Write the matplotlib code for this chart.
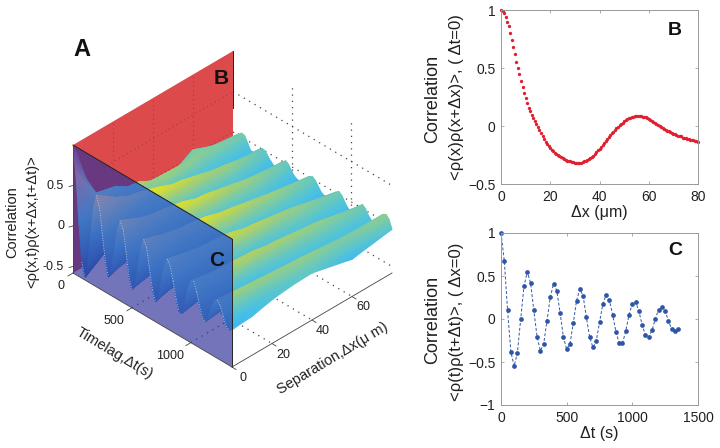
import numpy as np
import matplotlib
matplotlib.use("Agg")
import matplotlib.pyplot as plt
from matplotlib.colors import LinearSegmentedColormap
from matplotlib.patches import Polygon

plt.rcParams['font.family'] = ['Liberation Sans', 'DejaVu Sans']

### panel B data
corr_sep = [1.0, .99, .97, .94, .90, .86, .80, .745, .68, .62, .555, .50, .445, .39, .335, .285, .24, .195, .155, .125,
            .095, .065, .04, .015, -.01, -.035, -.06, -.085, -.11, -.135, -.155, -.175, -.19, -.205, -.215, -.23,
            -.24, -.25, -.26, -.27, -.28, -.285, -.29, -.30, -.30, -.305, -.31, -.31, -.315, -.315, -.315, -.315,
            -.315, -.31, -.305, -.30, -.295, -.285, -.275, -.265, -.255, -.24, -.225, -.21, -.195, -.18, -.16,
            -.145, -.13, -.11, -.095, -.08, -.06, -.05, -.035, -.02, -.005, .005, .02, .03, .04, .05, .06, .065,
            .07, .075, .08, .085, .085, .085, .085, .085, .08, .08, .075, .065, .06, .055, .045, .035, .025, .015,
            .01, 0, -.01, -.015, -.025, -.035, -.04, -.045, -.055, -.06, -.065, -.07, -.08, -.085, -.09, -.09,
            -.10, -.10, -.105, -.11, -.115, -.12, -.12, -.125, -.13, -.13, -.135]
sep_um = np.linspace(0, 80, len(corr_sep))

### panel C data (also the dx=0 edge of the surface)
lag_s = list(range(0, 1351, 25))
corr_lag = [1.0, .68, .10, -.38, -.55, -.39, 0, .38, .55, .42, .10, -.21, -.37, -.29, -.02, .25, .41, .33, .07,
            -.21, -.35, -.29, -.05, .21, .35, .27, .02, -.21, -.33, -.26, -.04, .17, .28, .22, .05, -.15, -.28,
            -.28, -.14, .05, .18, .20, .09, -.07, -.19, -.21, -.13, 0, .11, .14, .09, -.02, -.12, -.14, -.12]

### panel A surface, one list per separation
surf_sep = [0, 10, 20, 30, 40, 60, 80]
corr_10 = [.22, .28, .08, -.22, -.38, -.32, -.06, .22, .38, .36, .14, -.12, -.27, -.26, -.08, .15, .30, .30, .11,
           -.13, -.26, -.25, -.09, .13, .27, .25, .07, -.14, -.25, -.22, -.07, .11, .22, .21, .08, -.10, -.21,
           -.23, -.13, .02, .14, .17, .10, -.04, -.15, -.18, -.12, -.02, .08, .12, .09, 0, -.09, -.11, -.10]
corr_20 = [-.17, .22, .18, .02, -.18, -.28, -.14, .08, .26, .32, .20, -.02, -.19, -.24, -.14, .06, .22, .28, .17,
           -.03, -.18, -.22, -.13, .05, .21, .26, .16, -.03, -.17, -.20, -.11, .04, .17, .22, .14, -.02, -.14,
           -.18, -.14, -.02, .10, .16, .13, .01, -.10, -.15, -.13, -.05, .04, .10, .11, .05, -.03, -.06, -.04]
corr_30 = [-.30, .05, .15, .12, .0, -.15, -.16, -.02, .14, .24, .22, .08, -.08, -.18, -.16, -.03, .12, .23, .21,
           .07, -.08, -.17, -.15, -.03, .12, .22, .21, .07, -.08, -.16, -.14, -.03, .10, .19, .18, .06, -.07,
           -.14, -.14, -.05, .06, .14, .15, .07, -.04, -.11, -.12, -.07, .01, .08, .11, .08, .01, -.02, -.01]
corr_40 = [-.20, -.12, .02, .11, .12, .02, -.10, -.10, .03, .14, .20, .15, .03, -.09, -.14, -.09, .02, .14, .20,
           .15, .03, -.08, -.13, -.09, .02, .14, .19, .15, .03, -.08, -.12, -.08, .02, .12, .17, .13, .02,
           -.08, -.12, -.08, .01, .09, .14, .11, .02, -.07, -.10, -.08, -.02, .05, .10, .10, .05, .01, 0]
corr_60 = [.07, .08, .08, .09, .06, -.02, -.06, -.08, -.07, -.01, .07, .12, .10, .02, -.07, -.10, -.06, .02, .09,
           .12, .09, .01, -.07, -.10, -.06, .02, .09, .12, .09, .01, -.07, -.09, -.05, .02, .09, .11, .08,
           .01, -.06, -.09, -.05, .02, .08, .11, .08, .01, -.06, -.08, -.05, 0, .05, .07, .03, -.06, -.12]
corr_80 = [-.13, -.08, .02, .05, .04, -.03, -.10, -.10, -.06, -.02, .01, 0, -.05, -.09, -.12, -.10, -.05, 0, .03,
           0, -.06, -.10, -.12, -.11, -.08, -.03, .01, .03, 0, -.05, -.10, -.12, -.11, -.08, -.03, .01, .04,
           .01, -.05, -.10, -.12, -.10, -.05, .01, .05, .02, -.04, -.08, -.08, -.03, .03, .08, .10, .06, -.04]

z_ticks = [-0.5, 0, 0.5]
z_labels = ['-0.5', '0', '0.5']
lag_ticks = [0, 500, 1000]
sep_ticks = [0, 20, 40, 60]

dark = '#231f20'
parula = LinearSegmentedColormap.from_list('par', ['#2f62cc', '#2f9ae6', '#42bdee', '#58c6d0', '#7ccba8',
                                                   '#b4d160', '#e2e224'])
# what the surface looks like behind the blue wall
behind = LinearSegmentedColormap.from_list('behind', [(0, '#2c48a8'), (0.22, '#3560b8'), (0.35, '#3a72c4'),
                                                      (0.5, '#4a7cc4'), (0.63, '#7384b4'), (0.72, '#8c80a4'),
                                                      (0.8, '#8468a8'), (1, '#6c3496')])

fig = plt.figure(figsize=(7.2, 4.48), dpi=100)
ov = fig.add_axes([0, 0, 1, 1])
ov.set_xlim(0, 720)
ov.set_ylim(448, 0)
ov.axis('off')


# oblique view of the 3d box, in figure pixels
def proj(dx, dt, c):
    dx, dt, c = np.asarray(dx, float), np.asarray(dt, float), np.asarray(c, float)
    x = 73 + dx * 160 / 80 + dt * 159 / 1350
    y = 273 - dx * 94 / 80 + dt * 94 / 1350 - (c + 0.58) * 81
    return x, y


def poly(pts, **kw):
    xy = [proj(*p) for p in pts]
    ov.fill([p[0] for p in xy], [p[1] for p in xy], **kw)


def seg(a, b, **kw):
    xa, ya = proj(*a)
    xb, yb = proj(*b)
    ov.plot([xa, xb], [ya, yb], **kw)


zlo, zhi, dtm, dxm = -0.58, 1.0, 1350, 80
wall = [(0, 0, zlo), (0, dtm, zlo), (0, dtm, zhi), (0, 0, zhi)]

# red wall
poly([(0, 0, zlo), (dxm, 0, zlo), (dxm, 0, zhi), (0, 0, zhi)], color='#dc4a4c', lw=0, zorder=1)

# dotted grid on walls and floor
grid = dict(color='#444444', lw=0.9, ls=(0, (1, 4)), zorder=2)
redgrid = dict(color='#a83a40', lw=0.8, ls=(0, (1, 3)), zorder=2)
for z in z_ticks:
    seg((0, 0, z), (dxm, 0, z), **redgrid)
    seg((dxm, 0, z), (dxm, dtm, z), **grid)
for t in lag_ticks[1:]:
    seg((dxm, t, zlo), (dxm, t, zhi), **grid)
    seg((0, t, zlo), (dxm, t, zlo), **grid)
for d in sep_ticks[1:]:
    seg((d, 0, zlo), (d, 0, zhi), **redgrid)
    seg((d, 0, zlo), (d, dtm, zlo), **grid)

# surface, far rows first so the near ones cover them
table = np.array([corr_lag, corr_10, corr_20, corr_30, corr_40, corr_60, corr_80]).T
DX, DT = np.meshgrid(surf_sep[::-1], lag_s)
X, Y = proj(DX, DT, table[:, ::-1])
ov.pcolormesh(X, Y, table[:, ::-1], cmap=parula, vmin=-0.3, vmax=0.25, shading='gouraud', zorder=3)
ov.set_xlim(0, 720)
ov.set_ylim(448, 0)

# blue wall, then the part of the surface seen through it
poly(wall, color='#32329a', alpha=0.68, lw=0, zorder=4)
wall_xy = np.array([proj(*p) for p in wall])
clip = Polygon(wall_xy, transform=ov.transData, fill=False, lw=0)
ov.add_patch(clip)
seen = ov.pcolormesh(X, Y, table[:, ::-1], cmap=behind, vmin=-0.55, vmax=1.0, shading='gouraud', zorder=4.5)
seen.set_clip_path(clip)
ov.set_xlim(0, 720)
ov.set_ylim(448, 0)

# pale dotted line on the falling parts of the dx=0 edge
ex, ey = proj(0, np.array(lag_s), np.array(corr_lag))
falling = np.diff(corr_lag) < 0
for i in np.where(falling)[0][3:]:
    ov.plot(ex[i:i + 2], ey[i:i + 2], color='#c8d4e4', lw=0.6, ls=(0, (1, 2)), zorder=4.7)

# box lines
edge = dict(color='#222222', lw=0.7, zorder=5)
seg((0, 0, zhi), (0, dtm, zhi), **edge)
seg((0, dtm, zlo), (0, dtm, zhi), **edge)
seg((0, 0, zhi), (0, 0, zlo), color='#444444', lw=0.5, zorder=5)
seg((dxm, 0, zhi), (dxm, 0, 0.3), **edge)
seg((0, dtm, zlo), (dxm, dtm, zlo), color='#444444', lw=0.6, zorder=5)
seg((0, 0, zlo), (0, dtm, zlo), color='#444444', lw=0.6, zorder=5)

# ticks and text of panel A
for z, lab in zip(z_ticks, z_labels):
    x, y = proj(0, 0, z)
    ov.plot([x - 4, x], [y + 1, y], color='#444444', lw=0.6, zorder=5)
    ov.text(x - 9, y, lab, ha='right', va='center', fontsize=9, color=dark)
for t in lag_ticks:
    x, y = proj(0, t, zlo)
    ov.plot([x - 5, x], [y + 3, y], color='#444444', lw=0.6, zorder=5)
    ov.text(x - 7 if t else x - 12, y + 13, str(t), ha='right' if t else 'center', va='center', fontsize=9, color=dark)
for d in sep_ticks:
    x, y = proj(d, dtm, zlo)
    ov.plot([x, x + 4], [y, y + 2.5], color='#444444', lw=0.6, zorder=5)
    ov.text(x + 11, y + 11, str(d), ha='center', va='center', fontsize=9, color=dark)

ov.text(115, 353, 'Timelag,\u0394t(s)', rotation=-31, ha='center', va='center', fontsize=10.5, color=dark)
ov.text(333, 358, 'Separation,\u0394x(\u03bc m)', rotation=31, ha='center', va='center', fontsize=10.5, color=dark)
ov.text(12, 222, 'Correlation', rotation=90, ha='center', va='center', fontsize=10.5, color=dark)
ov.text(32, 222, '<\u03c1(x,t)\u03c1(x+\u0394x,t+\u0394t)>', rotation=90, ha='center', va='center', fontsize=10.5, color=dark)
ov.text(82, 49, 'A', ha='center', va='center', fontsize=17, fontweight='bold', color='#111111')
ov.text(221, 78, 'B', ha='center', va='center', fontsize=15, fontweight='bold', color='#111111', zorder=6)
ov.text(217, 260, 'C', ha='center', va='center', fontsize=15, fontweight='bold', color='#111111', zorder=6)


def small_axes(rect):
    ax = fig.add_axes(rect)
    ax.patch.set_alpha(0)
    ax.tick_params(direction='in', length=2, width=0.5, color='#888888', labelsize=10, labelcolor=dark, pad=4,
                   top=True, right=True)
    for s in ax.spines.values():
        s.set_color('#999999')
        s.set_linewidth(0.7)
    return ax


### Panel B
axb = small_axes([501 / 720, 1 - 184 / 448, 197 / 720, 174 / 448])
axb.plot(sep_um, corr_sep, 'o', color='#e01f30', ms=2.4, mew=0, clip_on=False)
axb.set_xlim(0, 80)
axb.set_ylim(-0.5, 1)
axb.set_xticks([0, 20, 40, 60, 80])
axb.set_yticks([-0.5, 0, 0.5, 1])
axb.set_yticklabels(['\u22120.5', '0', '0.5', '1'])
axb.set_xlabel('\u0394x (\u03bcm)', fontsize=11.5, color=dark, labelpad=1)
axb.text(0.92, 0.885, 'B', transform=axb.transAxes, ha='right', va='center', fontsize=14, fontweight='bold',
         color='#111111')
ov.text(433, 99, 'Correlation', rotation=90, ha='center', va='center', fontsize=13, color=dark)
ov.text(457, 97, '<\u03c1(x)\u03c1(x+\u0394x)>, ( \u0394t=0)', rotation=90, ha='center', va='center', fontsize=12,
        color=dark)

### Panel C
axc = small_axes([501 / 720, 1 - 405 / 448, 197 / 720, 172 / 448])
axc.plot(lag_s, corr_lag, '--o', color='#2f55a8', lw=0.7, ms=3.4, mew=0, dashes=(3, 2), clip_on=False)
axc.set_xlim(0, 1500)
axc.set_ylim(-1, 1)
axc.set_xticks([0, 500, 1000, 1500])
axc.set_yticks([-1, -0.5, 0, 0.5, 1])
axc.set_yticklabels(['\u22121', '\u22120.5', '0', '0.5', '1'])
axc.set_xlabel('\u0394t (s)', fontsize=11.5, color=dark, labelpad=1)
axc.text(0.92, 0.9, 'C', transform=axc.transAxes, ha='right', va='center', fontsize=14, fontweight='bold',
         color='#111111')
ov.text(433, 320, 'Correlation', rotation=90, ha='center', va='center', fontsize=13, color=dark)
ov.text(457, 322, '<\u03c1(t)\u03c1(t+\u0394t)>, ( \u0394x=0)', rotation=90, ha='center', va='center', fontsize=12,
        color=dark)

fig.savefig('out.png', dpi=100)
